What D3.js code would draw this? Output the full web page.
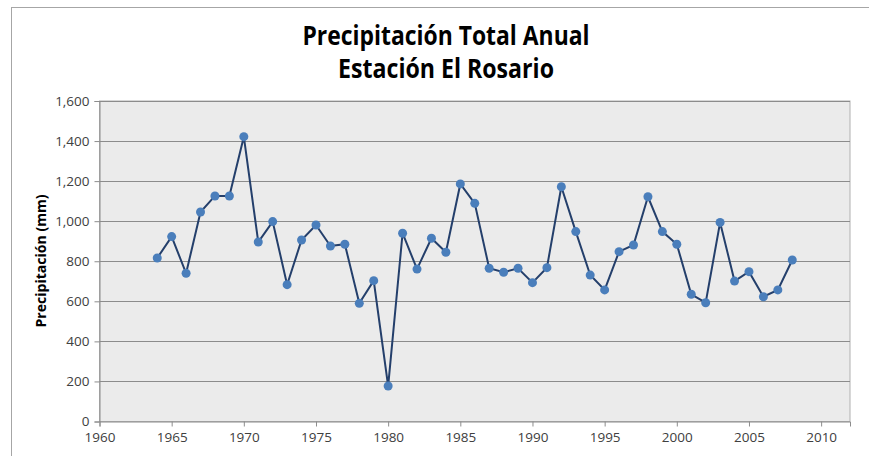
<!DOCTYPE html>
<meta charset="utf-8">
<style>
body { margin: 0; background: #fff; }
text { font-family: "Open Sans", "DejaVu Sans", sans-serif; }
.tick text { fill: #404040; }
</style>
<svg width="869" height="456"></svg>
<script src="https://cdn.jsdelivr.net/npm/d3@7"></script>
<script>

var years = [1964,1965,1966,1967,1968,1969,1970,1971,1972,1973,1974,1975,1976,1977,1978,1979,
             1980,1981,1982,1983,1984,1985,1986,1987,1988,1989,1990,1991,1992,1993,1994,1995,
             1996,1997,1998,1999,2000,2001,2002,2003,2004,2005,2006,2007,2008];
var precip = [816,923,740,1046,1126,1126,1422,896,998,683,906,981,876,885,590,703,
              177,940,761,915,845,1186,1089,765,745,765,693,768,1172,948,731,657,
              848,881,1122,948,885,635,593,994,701,748,623,657,806];
var yTicks = [0,200,400,600,800,1000,1200,1400,1600];
var xTicks = [1960,1965,1970,1975,1980,1985,1990,1995,2000,2005,2010];

var svg = d3.select("svg");

// outer chart frame
svg.append("rect")
    .attr("x", 11.5).attr("y", 7.5)
    .attr("width", 900).attr("height", 500)
    .attr("fill", "#fff")
    .attr("stroke", "#a6a6a6");

var plotL = 99.5, plotR = 850, plotT = 101, plotB = 421.5;

var x = d3.scaleLinear().domain([1960, 2012]).range([plotL, plotR]);
var y = d3.scaleLinear().domain([0, 1600]).range([plotB, plotT]);

svg.append("rect")
    .attr("x", plotL).attr("y", plotT)
    .attr("width", plotR - plotL).attr("height", plotB - plotT)
    .attr("fill", "#ebebeb")
    .attr("stroke", "#b0b0b0");

// gridlines
svg.append("g")
    .selectAll("line")
    .data(yTicks.slice(1))
    .enter().append("line")
      .attr("x1", plotL).attr("x2", plotR)
      .attr("y1", function(d) { return Math.round(y(d)) + 0.5; })
      .attr("y2", function(d) { return Math.round(y(d)) + 0.5; })
      .attr("stroke", "#8c8c8c")
      .attr("stroke-width", 1.2);

var yAxis = svg.append("g")
    .attr("transform", "translate(" + plotL + ",0)")
    .call(d3.axisLeft(y).tickValues(yTicks).tickSize(5).tickPadding(5)
      .tickFormat(d3.format(",")));

var xAxis = svg.append("g")
    .attr("transform", "translate(0," + plotB + ")")
    .call(d3.axisBottom(x).tickValues(xTicks).tickSize(5).tickPadding(6)
      .tickFormat(d3.format("d")));

[yAxis, xAxis].forEach(function(a) {
  a.select(".domain").attr("stroke", "#8c8c8c");
  a.selectAll(".tick line").attr("stroke", "#8c8c8c");
  a.selectAll(".tick text").attr("font-size", "13.5px");
});

var line = d3.line()
    .x(function(d, i) { return x(years[i]); })
    .y(function(d) { return y(d); });

svg.append("path")
    .datum(precip)
    .attr("fill", "none")
    .attr("stroke", "#243f6b")
    .attr("stroke-width", 2)
    .attr("d", line);

svg.append("g")
    .selectAll("circle")
    .data(precip)
    .enter().append("circle")
      .attr("cx", function(d, i) { return x(years[i]); })
      .attr("cy", function(d) { return y(d); })
      .attr("r", 4.5)
      .attr("fill", "#4a7ebb");

// title
svg.append("text")
    .attr("x", 446).attr("y", 45)
    .attr("text-anchor", "middle")
    .attr("font-weight", "bold")
    .attr("font-size", "26px")
    .attr("textLength", 287)
    .attr("lengthAdjust", "spacingAndGlyphs")
    .text("Precipitación Total Anual");
svg.append("text")
    .attr("x", 446).attr("y", 78)
    .attr("text-anchor", "middle")
    .attr("font-weight", "bold")
    .attr("font-size", "26px")
    .attr("textLength", 216)
    .attr("lengthAdjust", "spacingAndGlyphs")
    .text("Estación El Rosario");

svg.append("text")
    .attr("transform", "translate(46,261) rotate(-90)")
    .attr("text-anchor", "middle")
    .attr("font-weight", "bold")
    .attr("font-size", "14px")
    .attr("textLength", 133)
    .attr("lengthAdjust", "spacingAndGlyphs")
    .text("Precipitación (mm)");

</script>
